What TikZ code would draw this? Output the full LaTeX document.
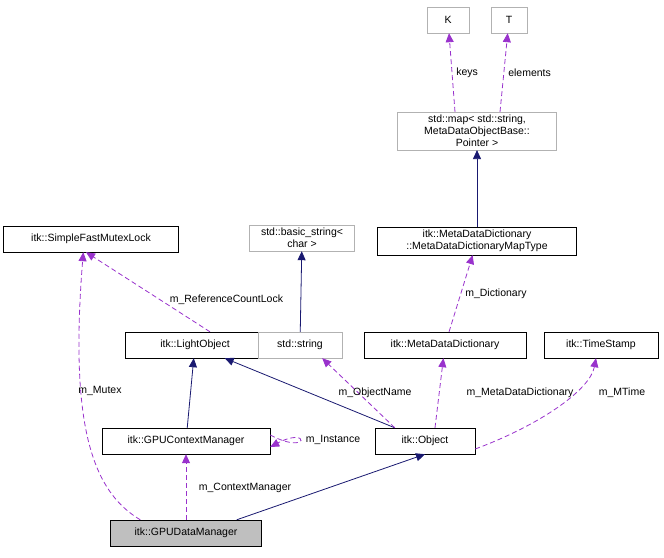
\documentclass[tikz,border=0pt]{standalone}
\usepackage{fontspec}
\setmainfont{Liberation Sans}
\usetikzlibrary{arrows.meta}
\definecolor{edgepurple}{RGB}{153,50,204}
\definecolor{edgenavy}{RGB}{25,25,112}
\begin{document}
\begin{tikzpicture}[x=1pt,y=-1pt]
    % Define the styles for the classes and edges
    \tikzstyle{cls}=[rectangle, draw=black, fill=white, align=center, font=\fontsize{10.5}{12}\selectfont, inner sep=3pt, minimum height=26pt]
    \tikzstyle{ext}=[cls, draw=black!30]
    \tikzstyle{inherit}=[edgenavy, line width=0.8pt, -{Triangle[length=9pt,width=8pt,fill=edgenavy]}]
    \tikzstyle{uses}=[edgepurple, line width=0.8pt, dash pattern=on 5pt off 3pt, -{Triangle[length=9pt,width=8pt,fill=edgepurple]}]
    \tikzstyle{lbl}=[font=\fontsize{10.5}{12}\selectfont, black, inner sep=1pt]
    \useasboundingbox (0,0) rectangle (664,557);

    % Draw the classes
    \node[ext, minimum width=42pt] (k) at (448,20) {K};
    \node[ext, minimum width=36pt] (t) at (509,20) {T};
    \node[ext, minimum width=159pt] (map) at (477,131) {std::map\textless{} std::string,\\ MetaDataObjectBase::\\ Pointer \textgreater};
    \node[cls, minimum width=175pt] (mutex) at (91,239) {itk::SimpleFastMutexLock};
    \node[ext, minimum width=105pt] (basicstr) at (302,238) {std::basic\_string\textless\\ char \textgreater};
    \node[cls, minimum width=199pt] (maptype) at (477,241) {itk::MetaDataDictionary\\ ::MetaDataDictionaryMapType};
    \node[cls, minimum width=139pt] (light) at (195,345) {itk::LightObject};
    \node[ext, minimum width=84pt] (string) at (300,345) {std::string};
    \node[cls, minimum width=162pt] (dict) at (445,345) {itk::MetaDataDictionary};
    \node[cls, minimum width=114pt] (stamp) at (601,345) {itk::TimeStamp};
    \node[cls, minimum width=168pt] (ctx) at (186,441) {itk::GPUContextManager};
    \node[cls, minimum width=100pt] (object) at (425,441) {itk::Object};
    \node[cls, minimum width=151pt, fill=black!25] (data) at (186,533) {itk::GPUDataManager};

    % Draw the inheritance edges
    \draw[inherit] (maptype) -- (map);
    \draw[inherit] (string) -- (basicstr);
    \draw[inherit] (ctx) -- (light);
    \draw[inherit] ([xshift=20pt]object.north west) -- ([xshift=-40pt]light.south east);
    \draw[inherit] ([xshift=-25pt]data.north east) -- (object.south);

    % Draw the member edges
    \draw[uses] ([xshift=-22pt]map.north) -- (k) node[lbl, midway, right=3pt] {keys};
    \draw[uses] ([xshift=23pt]map.north) -- (t) node[lbl, midway, right=3pt] {elements};
    \draw[uses] (dict) -- (maptype) node[lbl, midway, right=3pt] {m\_Dictionary};
    \draw[uses] ([xshift=15pt]light.north) -- ([xshift=-5pt]mutex.south) node[lbl, pos=0.4, right=8pt] {m\_ReferenceCountLock};
    \draw[uses] ([xshift=30pt]data.north west) .. controls (90,490) and (70,420) .. ([xshift=80pt]mutex.south west);
    \node[lbl] (mutexlbl) at (100,391) {m\_Mutex};
    \draw[uses] ([xshift=20pt]object.north west) -- ([xshift=-20pt]string.south east);
    \node[lbl] (namelbl) at (375,393) {m\_ObjectName};
    \draw[uses] ([xshift=10pt]object.north) -- (dict);
    \node[lbl] (dictlbl) at (520,393) {m\_MetaDataDictionary};
    \draw[uses] ([yshift=-8pt]object.east) .. controls (540,425) and (590,390) .. ([xshift=-5pt]stamp.south);
    \node[lbl] (timelbl) at (622,393) {m\_MTime};
    \draw[uses] ([yshift=6pt]ctx.east) .. controls (310,456) and (310,426) .. ([yshift=-6pt]ctx.east);
    \node[lbl] (instlbl) at (333,440) {m\_Instance};
    \draw[uses] (data) -- (ctx);
    \node[lbl] (ctxlbl) at (245,488) {m\_ContextManager};
\end{tikzpicture}
\end{document}
